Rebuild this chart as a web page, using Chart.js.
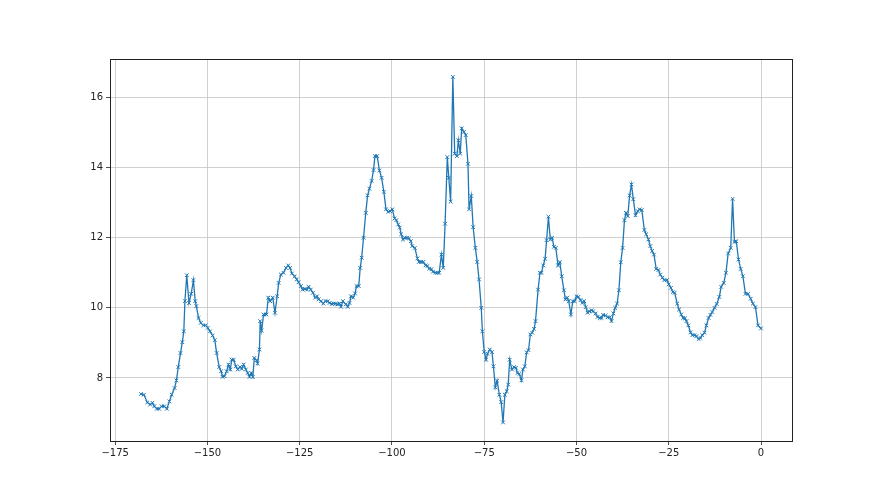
<!DOCTYPE html>
<html>
<head>
<meta charset="utf-8">
<title>Line chart</title>
<script src="https://cdn.jsdelivr.net/npm/chart.js@4.4.1/dist/chart.umd.min.js"></script>
<style>
  html, body { margin: 0; padding: 0; background: #fff; }
  canvas { display: block; }
</style>
</head>
<body>
<canvas id="lineChart" width="880" height="495"></canvas>
<script>
/* global Chart:false */
'use strict'

var hours = [
  -168.0, -167.2, -166.3, -165.5, -164.9, -164.4, -163.7, -163.1, -162.4, -161.7,
  -161.0, -160.3, -159.7, -158.9, -158.4, -157.9, -157.3, -156.8, -156.4, -156.1,
  -155.6, -155.0, -154.4, -153.8, -153.3, -153.0, -152.4, -151.8, -151.1, -150.5,
  -149.9, -149.3, -148.6, -148.0, -147.5, -146.8, -146.3, -145.9, -145.4, -144.8,
  -144.3, -143.8, -143.4, -142.9, -142.3, -141.8, -141.2, -140.7, -140.2, -139.6,
  -139.1, -138.6, -138.1, -137.7, -137.3, -136.7, -136.4, -135.9, -135.7, -135.3,
  -134.8, -134.0, -133.5, -133.0, -132.3, -131.7, -131.1, -130.7, -130.1, -129.4,
  -128.7, -128.1, -127.6, -127.1, -126.4, -125.8, -125.3, -124.7, -124.2, -123.6,
  -123.0, -122.6, -122.0, -121.4, -120.8, -120.3, -119.9, -119.2, -118.6, -118.0,
  -117.4, -116.9, -116.3, -115.8, -115.2, -114.7, -114.2, -113.8, -113.3, -112.5,
  -112.0, -111.5, -111.1, -110.5, -110.0, -109.6, -109.0, -108.6, -108.2, -107.7,
  -107.1, -106.6, -106.1, -105.5, -105.0, -104.6, -104.0, -103.4, -102.8, -102.2,
  -101.6, -101.0, -100.5, -99.9, -99.3, -98.8, -98.3, -97.9, -97.5, -97.0,
  -96.5, -95.9, -95.4, -94.9, -94.5, -93.8, -93.1, -92.7, -92.1, -91.5,
  -90.9, -90.4, -89.9, -89.3, -88.9, -88.2, -87.7, -87.2, -86.6, -86.1,
  -85.6, -85.0, -84.6, -84.1, -83.5, -83.0, -82.4, -82.0, -81.5, -81.1,
  -80.5, -80.0, -79.4, -79.1, -78.5, -78.0, -77.4, -76.9, -76.4, -75.8,
  -75.5, -75.0, -74.5, -74.1, -73.5, -72.9, -72.5, -72.0, -71.5, -70.9,
  -70.4, -69.9, -69.4, -68.9, -68.5, -68.1, -67.5, -66.9, -66.4, -66.0,
  -65.5, -64.9, -64.5, -64.0, -63.5, -63.0, -62.5, -62.0, -61.5, -61.1,
  -60.4, -59.9, -59.5, -59.0, -58.5, -58.1, -57.6, -57.1, -56.6, -56.1,
  -55.6, -55.0, -54.5, -54.0, -53.4, -53.0, -52.5, -52.1, -51.5, -51.0,
  -50.5, -50.0, -49.5, -48.9, -48.4, -47.9, -47.5, -47.0, -46.5, -45.9,
  -45.5, -44.8, -44.3, -43.7, -43.2, -42.8, -42.1, -41.6, -41.0, -40.5,
  -40.0, -39.5, -39.0, -38.5, -38.0, -37.5, -37.0, -36.6, -36.1, -35.6,
  -35.1, -34.6, -34.0, -33.4, -32.9, -32.3, -31.6, -31.1, -30.5, -30.0,
  -29.5, -29.0, -28.4, -27.8, -27.3, -26.7, -26.2, -25.5, -25.0, -24.4,
  -23.9, -23.4, -22.7, -22.2, -21.6, -21.1, -20.6, -20.2, -19.7, -19.1,
  -18.6, -18.0, -17.5, -16.9, -16.4, -15.9, -15.3, -14.8, -14.2, -13.7,
  -13.2, -12.6, -12.0, -11.3, -10.8, -10.1, -9.5, -8.9, -8.2, -7.7,
  -7.2, -6.7, -6.1, -5.5, -4.9, -4.2, -3.5, -2.8, -2.2, -1.5,
  -0.8, 0.0
]

var values = [
  7.54, 7.52, 7.30, 7.24, 7.29, 7.19, 7.12, 7.12, 7.19, 7.19,
  7.12, 7.33, 7.52, 7.71, 7.93, 8.31, 8.71, 9.02, 9.33, 10.19,
  10.93, 10.14, 10.40, 10.79, 10.19, 10.05, 9.71, 9.57, 9.50, 9.50,
  9.43, 9.33, 9.21, 9.08, 8.71, 8.31, 8.19, 8.03, 8.05, 8.19,
  8.38, 8.24, 8.52, 8.52, 8.33, 8.24, 8.31, 8.26, 8.38, 8.24,
  8.14, 8.03, 8.14, 8.03, 8.57, 8.50, 8.41, 8.81, 9.62, 9.35,
  9.81, 9.81, 10.29, 10.19, 10.29, 9.86, 10.33, 10.71, 10.95, 11.00,
  11.14, 11.21, 11.14, 10.98, 10.90, 10.81, 10.73, 10.62, 10.52, 10.54,
  10.52, 10.60, 10.52, 10.43, 10.29, 10.33, 10.24, 10.19, 10.12, 10.19,
  10.19, 10.14, 10.11, 10.12, 10.12, 10.10, 10.12, 10.03, 10.19, 10.10,
  10.03, 10.14, 10.33, 10.29, 10.41, 10.62, 10.62, 11.14, 11.43, 12.00,
  12.71, 13.21, 13.40, 13.62, 13.93, 14.33, 14.33, 13.92, 13.71, 13.31,
  12.81, 12.74, 12.76, 12.81, 12.55, 12.50, 12.38, 12.29, 12.10, 11.95,
  12.00, 12.00, 11.98, 11.90, 11.76, 11.71, 11.41, 11.31, 11.31, 11.31,
  11.21, 11.19, 11.12, 11.10, 11.03, 11.00, 11.00, 11.00, 11.52, 11.14,
  12.40, 14.30, 13.71, 13.03, 16.59, 14.40, 14.33, 14.78, 14.40, 15.12,
  15.02, 14.93, 14.11, 12.81, 13.19, 12.30, 11.71, 11.31, 10.81, 10.00,
  9.33, 8.74, 8.52, 8.69, 8.81, 8.74, 8.33, 7.73, 7.92, 7.52,
  7.31, 6.73, 7.52, 7.62, 7.81, 8.52, 8.24, 8.31, 8.29, 8.14,
  8.11, 7.93, 8.24, 8.33, 8.73, 8.79, 9.24, 9.29, 9.40, 9.62,
  10.52, 11.00, 11.00, 11.21, 11.40, 11.93, 12.60, 11.95, 12.00, 11.74,
  11.71, 11.21, 11.30, 10.90, 10.50, 10.24, 10.29, 10.19, 9.81, 10.19,
  10.19, 10.33, 10.31, 10.22, 10.14, 10.19, 10.02, 9.86, 9.90, 9.93,
  9.90, 9.84, 9.74, 9.71, 9.71, 9.80, 9.78, 9.73, 9.73, 9.62,
  9.84, 10.00, 10.12, 10.50, 11.30, 11.71, 12.50, 12.71, 12.62, 13.21,
  13.52, 13.10, 12.64, 12.76, 12.81, 12.79, 12.22, 12.10, 11.95, 11.76,
  11.62, 11.52, 11.11, 11.08, 10.95, 10.86, 10.79, 10.79, 10.67, 10.57,
  10.45, 10.43, 10.12, 9.95, 9.81, 9.71, 9.70, 9.62, 9.50, 9.30,
  9.22, 9.22, 9.19, 9.11, 9.14, 9.22, 9.29, 9.50, 9.71, 9.80,
  9.88, 10.00, 10.11, 10.31, 10.60, 10.71, 11.00, 11.55, 11.71, 13.11,
  11.88, 11.90, 11.38, 11.11, 10.90, 10.40, 10.40, 10.26, 10.12, 10.02,
  9.50, 9.41
]

var xTicks = [-175, -150, -125, -100, -75, -50, -25, 0]
var yTicks = [8, 10, 12, 14, 16]

//-------------
// - LINE CHART -
//-------------
var points = hours.map(function (h, i) {
  return { x: h, y: values[i] }
})

// matplotlib style minus sign on tick labels
function fmt (v) {
  return v < 0 ? '\u2212' + Math.abs(v) : String(v)
}

// axes frame on all four sides
var framePlugin = {
  id: 'frame',
  afterDraw: function (chart) {
    var a = chart.chartArea
    var ctx = chart.ctx
    ctx.save()
    ctx.strokeStyle = '#222'
    ctx.lineWidth = 1
    ctx.strokeRect(Math.round(a.left) + 0.5, Math.round(a.top) + 0.5,
      Math.round(a.right - a.left), Math.round(a.bottom - a.top))
    ctx.restore()
  }
}

Chart.defaults.font.family = 'DejaVu Sans'
Chart.defaults.font.size = 10
Chart.defaults.color = '#222'

var lineChartCanvas = document.getElementById('lineChart').getContext('2d')
// eslint-disable-next-line no-unused-vars
var lineChart = new Chart(lineChartCanvas, {
  type: 'line',
  data: {
    datasets: [
      {
        data: points,
        borderColor: '#1f77b4',
        borderWidth: 1.3,
        pointStyle: 'crossRot',
        pointRadius: 2.6,
        pointBorderWidth: 1,
        pointBorderColor: '#1f77b4',
        pointBackgroundColor: '#1f77b4',
        tension: 0,
        fill: false
      }
    ]
  },
  options: {
    responsive: false,
    devicePixelRatio: 1,
    animation: false,
    layout: { padding: { left: 0, top: 59, right: 88, bottom: 0 } },
    plugins: {
      legend: { display: false },
      tooltip: { enabled: false }
    },
    scales: {
      x: {
        type: 'linear',
        min: -176.4,
        max: 8.4,
        afterFit: function (scale) { scale.height = 54 },
        afterBuildTicks: function (scale) {
          scale.ticks = xTicks.map(function (v) { return { value: v } })
        },
        ticks: {
          padding: 2,
          maxRotation: 0,
          callback: fmt
        },
        grid: {
          color: '#c4c4c4',
          lineWidth: 0.8,
          tickLength: 4,
          tickColor: '#222',
          drawOnChartArea: true
        },
        border: { display: false }
      },
      y: {
        min: 6.2,
        max: 17.1,
        afterFit: function (scale) { scale.width = 110 },
        afterBuildTicks: function (scale) {
          scale.ticks = yTicks.map(function (v) { return { value: v } })
        },
        ticks: {
          padding: 3,
          callback: fmt
        },
        grid: {
          color: '#c4c4c4',
          lineWidth: 0.8,
          tickLength: 4,
          tickColor: '#222'
        },
        border: { display: false }
      }
    }
  },
  plugins: [framePlugin]
})

//-----------------
// - END LINE CHART -
//-----------------
</script>
</body>
</html>
